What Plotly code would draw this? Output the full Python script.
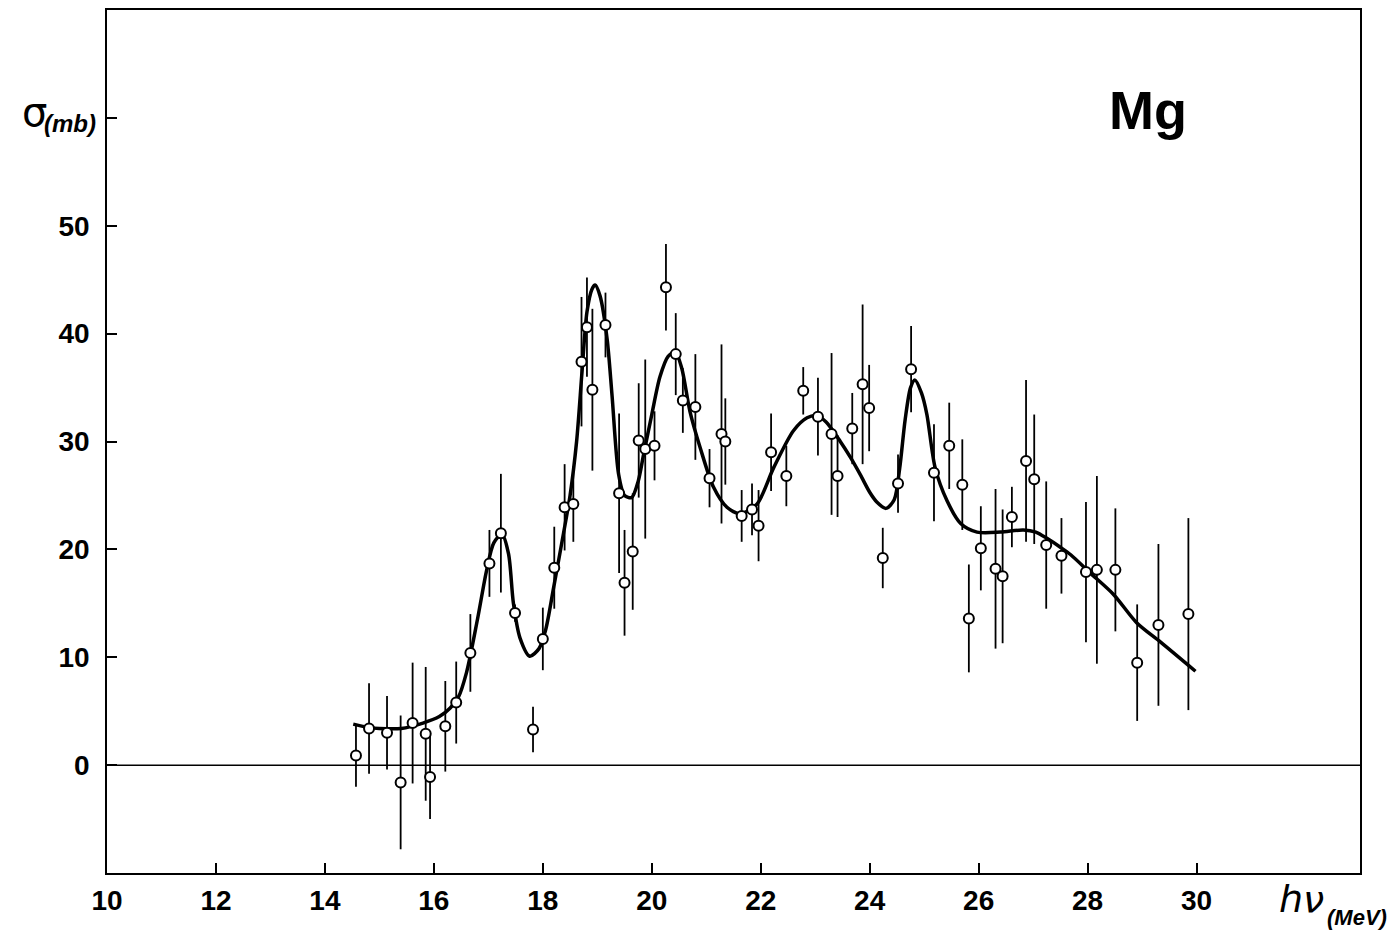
import plotly.graph_objects as go

# measured points: photon energy (MeV), cross-section (mb), error (mb)
energy = [14.57, 14.81, 15.14, 15.39, 15.61, 15.85, 15.93, 16.21, 16.41, 16.67,
          17.02, 17.23, 17.49, 17.82, 18.00, 18.21, 18.40, 18.56, 18.71, 18.81,
          18.91, 19.15, 19.40, 19.50, 19.65, 19.76, 19.88, 20.05, 20.26, 20.44,
          20.57, 20.80, 21.06, 21.28, 21.35, 21.65, 21.84, 21.96, 22.19, 22.47,
          22.78, 23.05, 23.30, 23.41, 23.68, 23.87, 23.99, 24.24, 24.52, 24.76,
          25.18, 25.46, 25.70, 25.82, 26.04, 26.31, 26.44, 26.61, 26.87, 27.02,
          27.24, 27.52, 27.97, 28.17, 28.51, 28.91, 29.30, 29.85]
sigma = [0.9, 3.4, 3.0, -1.6, 3.9, 2.9, -1.1, 3.6, 5.8, 10.4,
         18.7, 21.5, 14.1, 3.3, 11.7, 18.3, 23.9, 24.2, 37.4, 40.6,
         34.8, 40.8, 25.2, 16.9, 19.8, 30.1, 29.3, 29.6, 44.3, 38.1,
         33.8, 33.2, 26.6, 30.7, 30.0, 23.1, 23.7, 22.2, 29.0, 26.8,
         34.7, 32.3, 30.7, 26.8, 31.2, 35.3, 33.1, 19.2, 26.1, 36.7,
         27.1, 29.6, 26.0, 13.6, 20.1, 18.2, 17.5, 23.0, 28.2, 26.5,
         20.4, 19.4, 17.9, 18.1, 18.1, 9.5, 13.0, 14.0]
sigma_err = [2.9, 4.2, 3.4, 6.2, 5.6, 6.2, 3.9, 4.2, 3.8, 3.6,
             3.1, 5.5, 0.8, 2.1, 2.9, 3.8, 4.0, 3.5, 6.0, 4.6,
             7.5, 3.0, 7.4, 4.9, 5.4, 5.3, 8.3, 3.2, 4.0, 3.8,
             3.0, 4.9, 2.7, 8.3, 4.0, 2.4, 2.4, 3.3, 3.6, 2.8,
             2.2, 3.6, 7.5, 3.8, 3.3, 7.4, 4.0, 2.8, 2.7, 4.0,
             4.5, 4.0, 4.2, 5.0, 3.9, 7.4, 6.2, 2.8, 7.5, 6.0,
             5.9, 3.5, 6.5, 8.7, 5.7, 5.4, 7.5, 8.9]

# smooth curve drawn through the data
curve_e = [14.52, 14.8, 15.0, 15.4, 15.8, 16.1, 16.3, 16.45, 16.6, 16.8,
           16.97, 17.1, 17.25, 17.37, 17.46, 17.58, 17.76, 17.93, 18.05, 18.2,
           18.38, 18.5, 18.62, 18.72, 18.81, 18.9, 18.96, 19.05, 19.18, 19.27,
           19.39, 19.5, 19.63, 19.75, 19.85, 20.0, 20.15, 20.3, 20.43, 20.55,
           20.7, 20.89, 21.13, 21.38, 21.62, 21.93, 22.24, 22.6, 22.85, 23.03,
           23.2, 23.46, 23.65, 23.83, 24.0, 24.13, 24.3, 24.45, 24.55, 24.65,
           24.75, 24.83, 24.95, 25.05, 25.2, 25.42, 25.67, 25.97, 26.4, 26.82,
           27.05, 27.26, 27.5, 27.69, 28.05, 28.48, 28.9, 29.34, 29.98]
curve_s = [3.8, 3.5, 3.4, 3.4, 3.9, 4.5, 5.3, 6.3, 8.6, 13.5,
           18.1, 20.6, 21.4, 19.6, 15.0, 11.8, 10.1, 10.8, 12.5, 16.5,
           21.5, 25.0, 30.0, 36.5, 42.0, 44.1, 44.5, 43.5, 39.5, 34.3,
           27.0, 25.0, 24.8, 26.3, 28.8, 32.5, 36.0, 37.9, 38.3, 36.8,
           32.8, 29.4, 25.8, 23.9, 23.3, 24.2, 27.6, 31.0, 32.2, 32.4,
           31.8, 30.0, 28.5, 26.9, 25.3, 24.4, 23.8, 24.6, 27.5, 32.0,
           35.0, 35.7, 34.5, 32.5, 27.6, 24.5, 22.4, 21.6, 21.6, 21.8,
           21.6, 21.0, 20.2, 19.5, 17.8, 15.8, 13.2, 11.4, 8.7]

x_ticks = [10, 12, 14, 16, 18, 20, 22, 24, 26, 28, 30]
y_ticks = [0, 10, 20, 30, 40, 50, 60]
y_ticktext = ["0", "10", "20", "30", "40", "50", ""]

W, H = 1398, 936
L, R, T, B = 107, 38, 8, 63
PW, PH = W - L - R, H - T - B

def px(xp):
    return (xp - L) / PW

def py(yp):
    return (H - B - yp) / PH

SANS = "Liberation Sans, Arial"
tickfont = dict(family=SANS, size=28, color="black", weight="bold")

def label(xp, yp, text, **font):
    return dict(x=px(xp), y=py(yp), xref="paper", yref="paper", text=text,
                showarrow=False, xanchor="center", yanchor="middle",
                font=dict(color="black", **font))

fig = go.Figure()
fig.add_trace(go.Scatter(x=[10, 33], y=[0, 0], mode="lines",
                         line=dict(color="black", width=1.5), hoverinfo="skip"))
fig.add_trace(go.Scatter(x=curve_e, y=curve_s, mode="lines",
                         line=dict(color="black", width=3.5, shape="spline", smoothing=0.8)))
fig.add_trace(go.Scatter(
    x=energy, y=sigma, mode="markers",
    error_y=dict(type="data", array=sigma_err, visible=True, color="black",
                 thickness=1.8, width=0),
    marker=dict(symbol="circle", size=10, color="white",
                line=dict(color="black", width=2))))

fig.update_layout(
    width=W, height=H, showlegend=False,
    margin=dict(l=L, r=R, t=T, b=B),
    paper_bgcolor="white", plot_bgcolor="white",
    xaxis=dict(range=[10, 33], tickvals=x_ticks, ticks="inside", ticklen=10,
               tickwidth=1.5, tickcolor="black", showgrid=False, zeroline=False,
               showline=True, linecolor="black", linewidth=1.5, mirror=True,
               tickfont=tickfont, ticklabelstandoff=2),
    yaxis=dict(range=[-10, 70], tickvals=y_ticks, ticktext=y_ticktext,
               ticks="inside", ticklen=10, tickwidth=1.5, tickcolor="black",
               showgrid=False, zeroline=False, showline=True, linecolor="black",
               linewidth=1.5, mirror=True, tickfont=tickfont, ticklabelstandoff=10),
    annotations=[
        label(34, 110, "σ", family="DejaVu Sans", size=40),
        label(70, 122, "(mb)", family=SANS, size=24, style="italic", weight="bold"),
        label(1148, 108, "Mg", family=SANS, size=54, weight="bold"),
        label(1301, 899, "hν", family="DejaVu Sans", size=38, style="italic"),
        label(1357, 918, "(MeV)", family=SANS, size=22, style="italic", weight="bold"),
    ],
)

fig.write_html("out.html")
